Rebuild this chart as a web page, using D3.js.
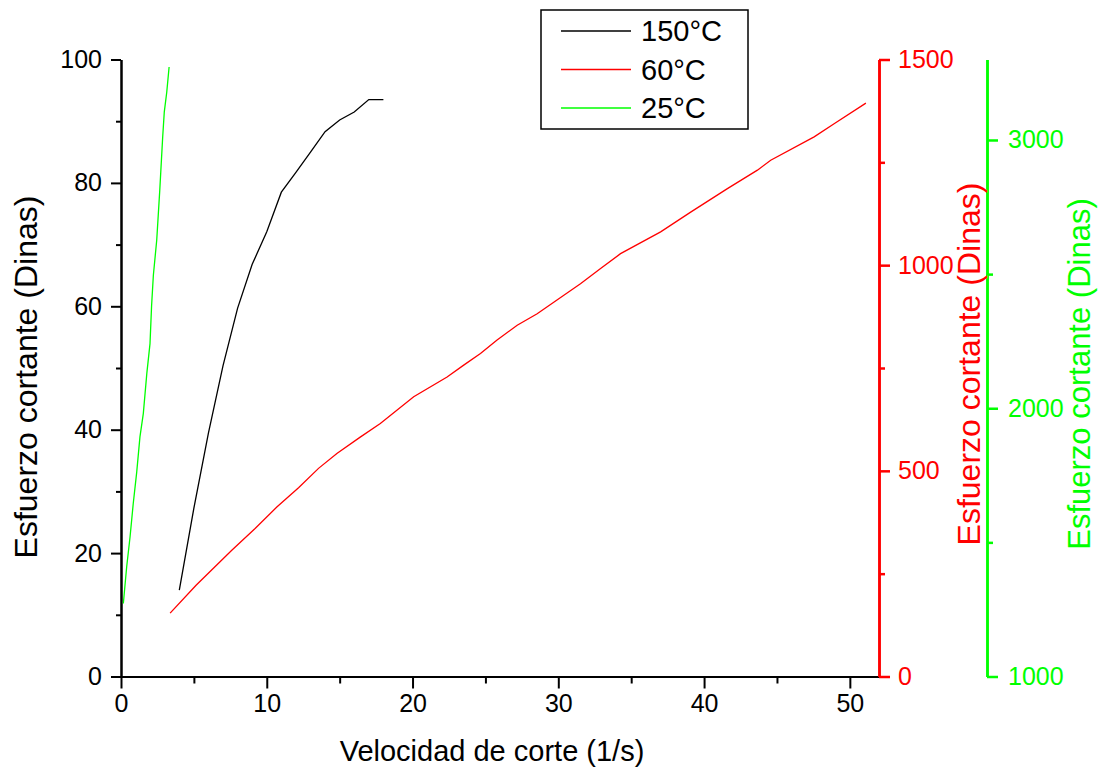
<!DOCTYPE html>
<html><head><meta charset="utf-8">
<script src="https://cdn.jsdelivr.net/npm/d3@7"></script>
<style>
body{margin:0;background:#fff}
text{font-family:"Liberation Sans",Arial,sans-serif}
</style>
</head><body>
<svg id="chart" width="1099" height="774"></svg>
<script>
// ---- data ----
const seriesNames = ["150°C", "60°C", "25°C"];
const seriesColors = ["#000000", "#ff0000", "#00ff00"];

const x150 = [4, 5, 6, 7, 8, 9, 10, 11, 12, 13, 14, 15, 16, 17, 18];
const y150 = [14.0, 27.3, 39.5, 50.4, 59.7, 66.8, 72.1, 78.5, 81.7, 85.0, 88.3, 90.2, 91.5, 93.5, 93.5];

const x60 = [3.37, 5.15, 7.6, 9.2, 10.69, 12.18, 13.55, 14.81, 16.41, 17.79, 20.08, 22.37, 23.51, 24.66, 25.8, 27.18, 28.55, 30.38, 31.52, 32.9, 34.27, 37.02, 39.08, 41.6, 43.66, 44.57, 47.55, 48.92, 51.1];
const y60 = [154, 222, 307, 360, 412, 459, 506, 542, 582, 615, 680, 728, 757, 785, 818, 854, 882, 927, 955, 992, 1028, 1081, 1129, 1186, 1231, 1255, 1312, 1344, 1394];

const x25 = [0.16, 0.39, 0.62, 0.84, 1.08, 1.30, 1.53, 1.77, 1.99, 2.10, 2.22, 2.45, 2.66, 2.86, 2.97, 3.14, 3.30];
const y25 = [1272, 1409, 1520, 1645, 1763, 1893, 1980, 2129, 2241, 2384, 2496, 2626, 2813, 3011, 3105, 3179, 3272];

const xTicks = [0, 10, 20, 30, 40, 50];
const xMinor = [5, 15, 25, 35, 45];
const leftTicks = [0, 20, 40, 60, 80, 100];
const leftMinor = [10, 30, 50, 70, 90];
const redTicks = [0, 500, 1000, 1500];
const redMinor = [250, 750, 1250];
const greenTicks = [1000, 2000, 3000];
const greenMinor = [1500, 2500];

const xTitle = "Velocidad de corte (1/s)";
const yTitle = "Esfuerzo cortante (Dinas)";

// ---- layout ----
const svg = d3.select("#chart");
const L = 121, R = 879, T = 59.5, B = 676.5;
const xS = d3.scaleLinear().domain([0, 52]).range([L, R]);
const yL = d3.scaleLinear().domain([0, 100]).range([B, T]);
const yR = d3.scaleLinear().domain([0, 1500]).range([B, T]);
const yG = d3.scaleLinear().domain([1000, 3300]).range([B, T]);
const greenX = 987;
const fmt = d3.format("d");

function styleAxis(g, color, w) {
  g.select(".domain").attr("stroke", color).attr("stroke-width", w);
  g.selectAll(".tick line").attr("stroke", color).attr("stroke-width", w);
  g.selectAll(".tick text").attr("fill", color).style("font-size", "25px")
   .style("font-family", '"Liberation Sans",Arial,sans-serif');
}

// bottom axis
let g = svg.append("g").attr("transform", `translate(0,${B})`)
  .call(d3.axisBottom(xS).tickValues(xMinor).tickSize(7).tickSizeOuter(0).tickFormat(""));
styleAxis(g, "#000", 2);
g = svg.append("g").attr("transform", `translate(0,${B})`)
  .call(d3.axisBottom(xS).tickValues(xTicks).tickSize(12).tickSizeOuter(0).tickPadding(6).tickFormat(fmt));
styleAxis(g, "#000", 2);

// left axis
g = svg.append("g").attr("transform", `translate(${L},0)`)
  .call(d3.axisLeft(yL).tickValues(leftMinor).tickSize(5).tickSizeOuter(0).tickFormat(""));
styleAxis(g, "#000", 2);
g = svg.append("g").attr("transform", `translate(${L},0)`)
  .call(d3.axisLeft(yL).tickValues(leftTicks).tickSize(10).tickSizeOuter(0).tickPadding(9).tickFormat(fmt));
styleAxis(g, "#000", 2);

// red right axis
g = svg.append("g").attr("transform", `translate(${R},0)`)
  .call(d3.axisRight(yR).tickValues(redMinor).tickSize(6).tickSizeOuter(0).tickFormat(""));
styleAxis(g, "#ff0000", 2.5);
g = svg.append("g").attr("transform", `translate(${R},0)`)
  .call(d3.axisRight(yR).tickValues(redTicks).tickSize(11).tickSizeOuter(0).tickPadding(8).tickFormat(fmt));
styleAxis(g, "#ff0000", 2.5);

// green right axis
g = svg.append("g").attr("transform", `translate(${greenX},0)`)
  .call(d3.axisRight(yG).tickValues(greenMinor).tickSize(6).tickSizeOuter(0).tickFormat(""));
styleAxis(g, "#00ff00", 2.5);
g = svg.append("g").attr("transform", `translate(${greenX},0)`)
  .call(d3.axisRight(yG).tickValues(greenTicks).tickSize(11).tickSizeOuter(0).tickPadding(10).tickFormat(fmt));
styleAxis(g, "#00ff00", 2.5);

// lines
const series = [
  {xs: x150, ys: y150, y: yL},
  {xs: x60, ys: y60, y: yR},
  {xs: x25, ys: y25, y: yG}
];
series.forEach((s, i) => {
  const pts = s.xs.map((v, k) => [v, s.ys[k]]);
  svg.append("path")
    .attr("d", d3.line().x(d => xS(d[0])).y(d => s.y(d[1]))(pts))
    .attr("fill", "none").attr("stroke", seriesColors[i]).attr("stroke-width", 1.3);
});

// titles
svg.append("text").attr("x", 492).attr("y", 761).attr("text-anchor", "middle")
  .style("font-size", "29px").attr("fill", "#000").text(xTitle);
svg.append("text").attr("transform", "translate(37,377) rotate(-90)").attr("text-anchor", "middle")
  .style("font-size", "32px").attr("fill", "#000").text(yTitle);
svg.append("text").attr("transform", "translate(980,364) rotate(-90)").attr("text-anchor", "middle")
  .style("font-size", "32px").attr("fill", "#ff0000").text(yTitle);
svg.append("text").attr("transform", "translate(1090,374) rotate(-90)").attr("text-anchor", "middle")
  .style("font-size", "31px").attr("fill", "#00ff00").text(yTitle);

// legend
const lg = svg.append("g");
lg.append("rect").attr("x", 541).attr("y", 10).attr("width", 207).attr("height", 119)
  .attr("fill", "#fff").attr("stroke", "#000").attr("stroke-width", 1.5);
const rowY = d3.scalePoint().domain(seriesNames).range([31, 108]);
seriesNames.forEach((n, i) => {
  lg.append("line").attr("x1", 561).attr("x2", 631).attr("y1", rowY(n)).attr("y2", rowY(n))
    .attr("stroke", seriesColors[i]).attr("stroke-width", 1.3);
  lg.append("text").attr("x", 641).attr("y", rowY(n) + 10).style("font-size", "29px")
    .attr("fill", "#000").text(n);
});
</script>
</body></html>
